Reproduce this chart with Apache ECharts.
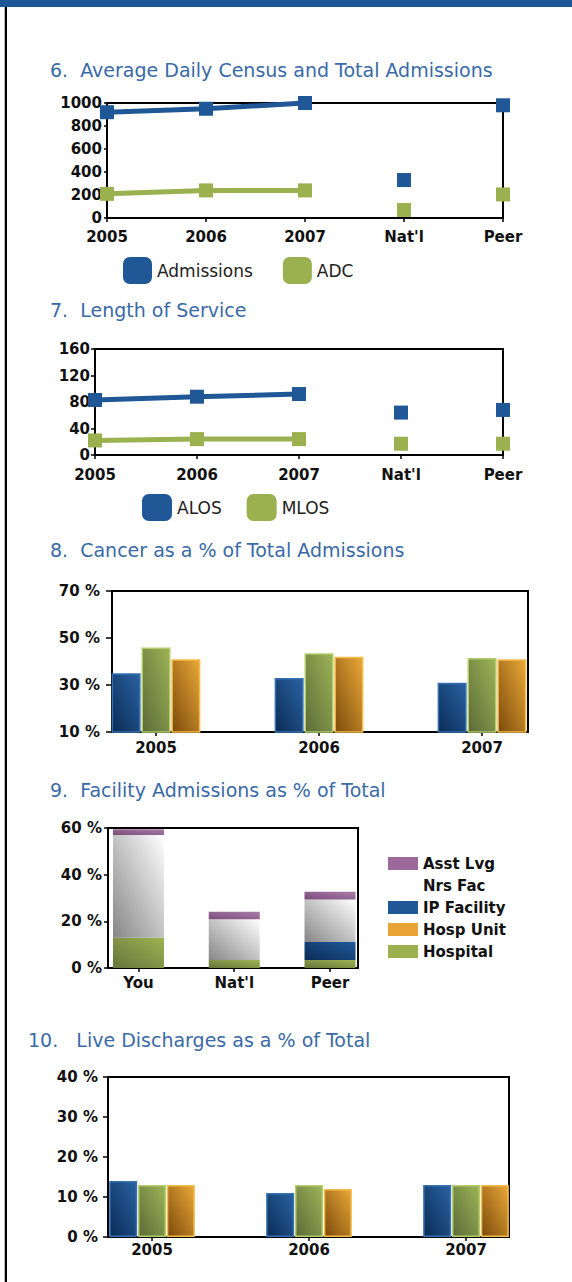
<!DOCTYPE html>
<html>
<head>
<meta charset="utf-8">
<script src="https://cdn.jsdelivr.net/npm/echarts@6/dist/echarts.min.js"></script>
<style>
  html, body { margin: 0; padding: 0; background: #fff; }
  #main { width: 572px; height: 1282px; }
</style>
</head>
<body>
<div id="main"></div>
<script>
// 6. census / admissions
var lineCats = ['2005', '2006', '2007', "Nat'l", 'Peer'];
var admissionsTrend = [920, 950, 1000];
var admissionsCompare = [330, 980];
var adcTrend = [210, 240, 240];
var adcCompare = [70, 205];
// 7. length of service
var alosTrend = [83, 88, 92];
var alosCompare = [64, 68];
var mlosTrend = [22, 24, 24];
var mlosCompare = [17, 17];
// 8. cancer %
var years = ['2005', '2006', '2007'];
var cancerYou = [35, 33, 31];
var cancerNat = [46, 43.5, 41.5];
var cancerPeer = [41, 42, 41];
// 9. facility admissions %
var facilityCats = ['You', "Nat'l", 'Peer'];
var hospital = [13, 3.4, 3.4];
var hospUnit = [0, 0, 0];
var ipFacility = [0, 0, 7.7];
var nrsFac = [44, 17.5, 18.3];
var asstLvg = [2.5, 3.2, 3.3];
// 10. live discharges %
var liveYou = [14, 11, 13];
var liveNat = [13, 13, 13];
var livePeer = [13, 12, 13];

var BLUE = '#1f5797';
var GREEN = '#9bb04f';
var ORANGE = '#e8a535';
var PURPLE = '#9b6a9b';
var TITLE_BLUE = '#3a6aa6';
var FONT = 'DejaVu Sans';

function grad(c1, c2) {
  return new echarts.graphic.LinearGradient(0, 1, 1, 0, [
    { offset: 0, color: c1 },
    { offset: 1, color: c2 }
  ]);
}
// trend points for the years, comparison points for Nat'l / Peer
function trendData(arr) { return arr.concat(['-', '-']); }
function compareData(arr) { return ['-', '-', '-'].concat(arr); }

var labelFont = { fontFamily: FONT, fontWeight: 'bold', fontSize: 15, color: '#111' };
var blackLine = { color: '#000', width: 2 };

function title(text, left, top) {
  return { text: text, left: left, top: top,
    textStyle: { fontFamily: FONT, fontWeight: 'normal', fontSize: 19, color: TITLE_BLUE } };
}
function frameGrid(left, top, right, height) {
  return { left: left, top: top, right: right, height: height, show: true,
    borderColor: '#000', borderWidth: 2, backgroundColor: 'transparent' };
}
function yFrame(idx, min, max, interval, margin, tick, suffix) {
  return { type: 'value', gridIndex: idx, min: min, max: max, interval: interval,
    axisLine: { show: true, lineStyle: blackLine },
    axisTick: { show: true, length: tick, lineStyle: { color: '#000', width: 1.5 } },
    splitLine: { show: false },
    axisLabel: Object.assign({ margin: margin,
      formatter: function (v) { return String(v) + suffix; } }, labelFont) };
}
function yHidden(idx, min, max) {
  return { type: 'value', gridIndex: idx, min: min, max: max, show: false };
}
function xFrame(idx) {
  return { type: 'value', gridIndex: idx, min: 0, max: 1,
    axisLine: { show: true, onZero: false, lineStyle: blackLine },
    axisTick: { show: false }, axisLabel: { show: false }, splitLine: { show: false } };
}
function xBars(idx, data, margin) {
  return { type: 'category', gridIndex: idx, data: data, boundaryGap: true,
    axisLine: { show: false },
    axisTick: { show: true, alignWithLabel: true, length: 4, lineStyle: { color: '#000', width: 1.5 } },
    axisLabel: Object.assign({ margin: margin, interval: 0 }, labelFont) };
}
function xLine(idx, margin) {
  return { type: 'category', gridIndex: idx, data: lineCats, boundaryGap: false,
    axisLine: { show: true, lineStyle: blackLine },
    axisTick: { show: true, length: 4, lineStyle: { color: '#000', width: 1.5 } },
    axisLabel: Object.assign({ margin: margin, interval: 0 }, labelFont),
    splitLine: { show: false } };
}
function trendSeries(name, idx, arr, color) {
  return { name: name, type: 'line', xAxisIndex: idx, yAxisIndex: idx,
    data: trendData(arr), symbol: 'rect', symbolSize: 14, clip: false,
    itemStyle: { color: color, opacity: 1 }, lineStyle: { color: color, width: 5 } };
}
function compareSeries(name, idx, arr, color) {
  return { name: name, type: 'scatter', xAxisIndex: idx, yAxisIndex: idx,
    data: compareData(arr), symbol: 'rect', symbolSize: 14, clip: false,
    itemStyle: { color: color, opacity: 1 } };
}
function groupBar(name, idx, arr, c1, c2, border, width) {
  return { name: name, type: 'bar', xAxisIndex: idx, yAxisIndex: idx, data: arr,
    barWidth: width, barGap: '3%',
    itemStyle: { color: grad(c1, c2), borderColor: border, borderWidth: 1.5 } };
}
function stackBar(name, arr, c1, c2) {
  return { name: name, type: 'bar', stack: 'fac', xAxisIndex: 5, yAxisIndex: 5,
    data: arr, barWidth: 51, itemStyle: { color: grad(c1, c2) } };
}

var myChart = echarts.init(document.getElementById('main'), null, { renderer: 'svg' });
myChart.setOption({
  animation: false,
  title: [
    title('6.  Average Daily Census and Total Admissions', 45, 55),
    title('7.  Length of Service', 45, 295),
    title('8.  Cancer as a % of Total Admissions', 45, 535),
    title('9.  Facility Admissions as % of Total', 45, 775),
    title('10.   Live Discharges as a % of Total', 23, 1025)
  ],
  graphic: [
    { type: 'rect', shape: { x: 0, y: 0, width: 572, height: 7 }, style: { fill: BLUE } },
    { type: 'rect', shape: { x: 4, y: 7, width: 1, height: 1275 }, style: { fill: '#bbbbbb' } },
    { type: 'rect', shape: { x: 5, y: 7, width: 2, height: 1275 }, style: { fill: '#000' } }
  ],
  legend: [
    { data: ['Admissions', 'ADC'], left: 118, top: 252, icon: 'roundRect',
      itemWidth: 29, itemHeight: 27, itemGap: 30,
      textStyle: { fontFamily: FONT, fontSize: 17, color: '#222' } },
    { data: ['ALOS', 'MLOS'], left: 137, top: 489, icon: 'roundRect',
      itemWidth: 30, itemHeight: 27, itemGap: 25,
      textStyle: { fontFamily: FONT, fontSize: 17, color: '#222' } },
    { orient: 'vertical', left: 383, top: 851, icon: 'rect',
      itemWidth: 30, itemHeight: 13, itemGap: 7,
      data: [
        { name: 'Asst Lvg', itemStyle: { color: PURPLE } },
        { name: 'Nrs Fac', itemStyle: { color: '#ffffff' } },
        { name: 'IP Facility', itemStyle: { color: BLUE } },
        { name: 'Hosp Unit', itemStyle: { color: ORANGE } },
        { name: 'Hospital', itemStyle: { color: GREEN } }
      ],
      textStyle: { fontFamily: FONT, fontSize: 15, fontWeight: 'bold', color: '#111' } }
  ],
  grid: [
    frameGrid(107, 103, 69, 115),
    frameGrid(95, 349, 69, 106),
    frameGrid(112, 591, 44, 141),
    { left: 74.5, top: 591, right: 8.5, height: 141 },
    frameGrid(108, 828, 214, 140),
    { left: 90.6, top: 828, right: 194.1, height: 140 },
    frameGrid(108, 1077, 63, 160),
    { left: 73.5, top: 1077, right: 27.5, height: 160 }
  ],
  xAxis: [
    xLine(0, 11),
    xLine(1, 12),
    xFrame(2),
    xBars(3, years, 8),
    xFrame(4),
    xBars(5, facilityCats, 7),
    xFrame(6),
    xBars(7, years, 5)
  ],
  yAxis: [
    yFrame(0, 0, 1000, 200, 5, 3, ''),
    yFrame(1, 0, 160, 40, 5, 4, ''),
    yFrame(2, 10, 70, 20, 12, 6, ' %'),
    yHidden(3, 10, 70),
    yFrame(4, 0, 60, 20, 6, 4, ' %'),
    yHidden(5, 0, 60),
    yFrame(6, 0, 40, 10, 10, 5, ' %'),
    yHidden(7, 0, 40)
  ],
  series: [
    trendSeries('Admissions', 0, admissionsTrend, BLUE),
    compareSeries('Admissions', 0, admissionsCompare, BLUE),
    trendSeries('ADC', 0, adcTrend, GREEN),
    compareSeries('ADC', 0, adcCompare, GREEN),

    trendSeries('ALOS', 1, alosTrend, BLUE),
    compareSeries('ALOS', 1, alosCompare, BLUE),
    trendSeries('MLOS', 1, mlosTrend, GREEN),
    compareSeries('MLOS', 1, mlosCompare, GREEN),

    groupBar('You', 3, cancerYou, '#0a2c55', '#2a62a3', '#3670b3', 29),
    groupBar("Nat'l", 3, cancerNat, '#5c6b38', '#9db457', '#b3cc6c', 29),
    groupBar('Peer', 3, cancerPeer, '#7c4b0b', '#eaa838', '#f4bb48', 29),

    stackBar('Hospital', hospital, '#66753c', '#9db352'),
    stackBar('Hosp Unit', hospUnit, '#b07a1e', ORANGE),
    stackBar('IP Facility', ipFacility, '#0a2c55', '#21599a'),
    stackBar('Nrs Fac', nrsFac, '#868686', '#ffffff'),
    stackBar('Asst Lvg', asstLvg, '#7a4c7a', '#a97da9'),

    groupBar('You ', 7, liveYou, '#0a2c55', '#2a62a3', '#3670b3', 28),
    groupBar("Nat'l ", 7, liveNat, '#5c6b38', '#9db457', '#b3cc6c', 28),
    groupBar('Peer ', 7, livePeer, '#7c4b0b', '#eaa838', '#f4bb48', 28)
  ]
});
</script>
</body>
</html>
